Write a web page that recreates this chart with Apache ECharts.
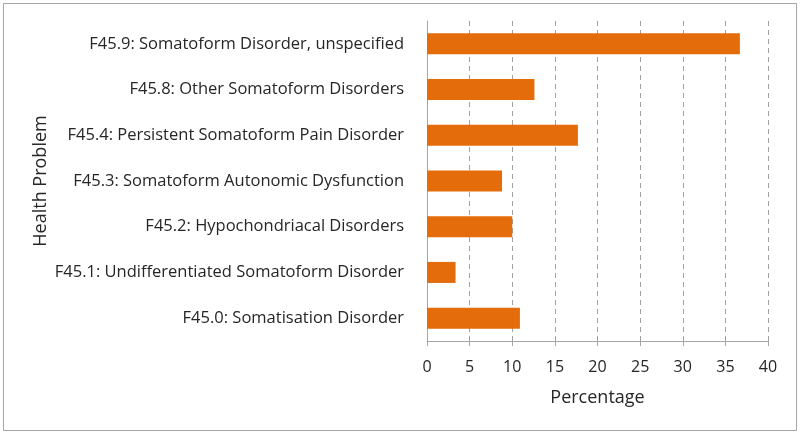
<!DOCTYPE html>
<html><head><meta charset="utf-8">
<script src="https://cdn.jsdelivr.net/npm/echarts@6/dist/echarts.min.js"></script>
<style>html,body{margin:0;padding:0;background:#fff}#c{width:800px;height:434px}</style>
</head><body><div id="c"></div>
<script>
const categories = [
  "F45.0: Somatisation Disorder",
  "F45.1: Undifferentiated Somatoform Disorder",
  "F45.2: Hypochondriacal Disorders",
  "F45.3: Somatoform Autonomic Dysfunction",
  "F45.4: Persistent Somatoform Pain Disorder",
  "F45.8: Other Somatoform Disorders",
  "F45.9: Somatoform Disorder, unspecified"
];
const values = [10.9, 3.35, 10.0, 8.8, 17.7, 12.6, 36.7];
const xTicks = [0, 5, 10, 15, 20, 25, 30, 35, 40];

const font = "'Open Sans', 'Noto Sans', sans-serif";
const chart = echarts.init(document.getElementById('c'));
chart.setOption({
  animation: false,
  textStyle: { fontFamily: font },
  graphic: [{
    type: 'rect', shape: { x: 3.5, y: 3.5, width: 793, height: 427 },
    style: { fill: 'none', stroke: '#a6a6a6', lineWidth: 1 }, silent: true
  }],
  grid: { left: 427, right: 32, top: 21, bottom: 93 },
  xAxis: {
    type: 'value', min: xTicks[0], max: xTicks[xTicks.length - 1], interval: 5,
    name: 'Percentage', nameLocation: 'middle', nameGap: 48,
    nameTextStyle: { fontSize: 18, color: '#262626', fontFamily: font },
    axisLine: { show: true, lineStyle: { color: '#a6a6a6', width: 1 } },
    axisTick: { show: true, length: 5, lineStyle: { color: '#a6a6a6' } },
    axisLabel: { fontSize: 16, color: '#262626', margin: 18, fontFamily: font },
    splitLine: { show: true, lineStyle: { type: [5, 4], color: '#a0a0a0', width: 1 } }
  },
  yAxis: {
    type: 'category', data: categories,
    name: 'Health Problem', nameLocation: 'middle', nameGap: 377, nameRotate: 90,
    nameTextStyle: { fontSize: 18, color: '#262626', fontFamily: font },
    axisLine: { show: true, lineStyle: { color: '#a6a6a6', width: 1 } },
    axisTick: { show: false },
    axisLabel: { fontSize: 16.5, color: '#262626', margin: 23, fontFamily: font },
    splitLine: { show: false }
  },
  series: [{
    type: 'bar', data: values, barWidth: '46%',
    itemStyle: { color: '#E46C0A' }
  }]
});
</script></body></html>
